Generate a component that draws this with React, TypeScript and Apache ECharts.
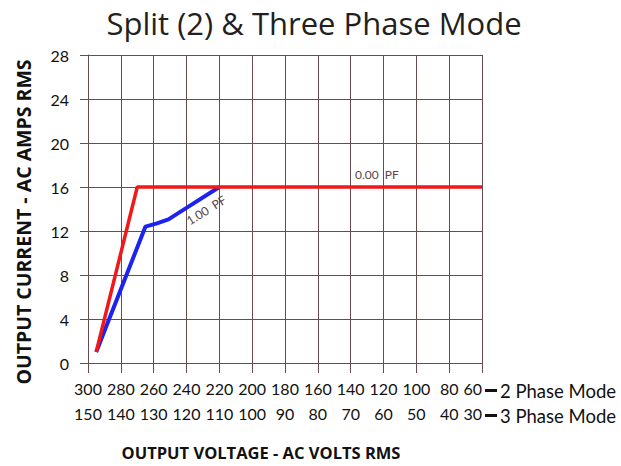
import React, { useEffect, useRef } from "react";
import * as echarts from "echarts";

const TITLE = "Split (2) & Three Phase Mode";
const Y_TITLE = "OUTPUT CURRENT - AC AMPS RMS";
const X_TITLE = "OUTPUT VOLTAGE - AC VOLTS RMS";
const ROW2_LABEL = "2 Phase Mode";
const ROW3_LABEL = "3 Phase Mode";

// Output current (A rms) vs 2-phase output voltage (V rms)
const pf100: [number, number][] = [
  [295, 1],
  [265, 12.4],
  [258, 12.7],
  [251, 13.06],
  [240, 14.1],
  [220, 16],
];
const pf000: [number, number][] = [
  [295, 1],
  [270, 16],
  [60, 16],
];
const PF100_TEXT = { text: "1.00  PF", at: [228, 13.9] };
const PF000_TEXT = { text: "0.00  PF", at: [124, 17.1] };

// axis ranges
const V2 = { min: 60, max: 300, step: 20 };
const V3 = { min: 30, max: 150, step: 10 };
const AMPS = { min: 0, max: 28, step: 4 };

const LABEL_FONT = 'Lato, "Open Sans", sans-serif';
const TITLE_FONT = '"Open Sans", sans-serif';
const GRID_COLOR = "#6a4c4c";

export default function App() {
  const ref = useRef<HTMLDivElement>(null);
  useEffect(() => {
    if (!ref.current) return;
    const chart = echarts.init(ref.current, undefined, { renderer: "svg" });
    const axisLabelX = {
      fontFamily: LABEL_FONT,
      fontSize: 16,
      color: "#111",
      margin: 17,
      alignMinLabel: "right",
      hideOverlap: false,
    };
    chart.setOption({
      animation: false,
      backgroundColor: "#fff",
      grid: { left: 88, top: 55, right: 139, bottom: 103 },
      xAxis: [
        {
          type: "value",
          min: V2.min,
          max: V2.max,
          interval: V2.step,
          inverse: true,
          position: "bottom",
          axisLine: { show: true, lineStyle: { color: GRID_COLOR, width: 1 } },
          axisTick: { show: true, length: 10, lineStyle: { color: GRID_COLOR } },
          splitLine: { show: true, lineStyle: { color: GRID_COLOR, width: 1 } },
          axisLabel: axisLabelX,
        },
        {
          type: "value",
          min: V3.min,
          max: V3.max,
          interval: V3.step,
          inverse: true,
          position: "bottom",
          offset: 25,
          axisLine: { show: false },
          axisTick: { show: false },
          splitLine: { show: false },
          axisLabel: axisLabelX,
        },
      ],
      yAxis: {
        type: "value",
        min: AMPS.min,
        max: AMPS.max,
        interval: AMPS.step,
        axisLine: { show: true, lineStyle: { color: GRID_COLOR, width: 1 } },
        axisTick: { show: true, length: 8, lineStyle: { color: GRID_COLOR } },
        splitLine: { show: true, lineStyle: { color: GRID_COLOR, width: 1 } },
        axisLabel: { fontFamily: LABEL_FONT, fontSize: 16, color: "#111", margin: 19 },
      },
      series: [
        {
          type: "line",
          name: "1.00 PF",
          data: pf100,
          symbol: "none",
          lineStyle: { color: "#1c22f0", width: 4 },
          z: 3,
        },
        {
          type: "line",
          name: "0.00 PF",
          data: pf000,
          symbol: "none",
          lineStyle: { color: "#f01818", width: 3.5 },
          z: 4,
        },
      ],
    });

    const p1 = chart.convertToPixel({ xAxisIndex: 0, yAxisIndex: 0 }, PF100_TEXT.at) as number[];
    const p0 = chart.convertToPixel({ xAxisIndex: 0, yAxisIndex: 0 }, PF000_TEXT.at) as number[];

    chart.setOption({
      graphic: [
        {
          type: "text",
          x: 314,
          y: 23,
          style: {
            text: TITLE,
            fontFamily: TITLE_FONT,
            fontSize: 31,
            fill: "#231f20",
            align: "center",
            verticalAlign: "middle",
          },
        },
        {
          type: "text",
          x: 23,
          y: 222,
          rotation: Math.PI / 2,
          style: {
            text: Y_TITLE,
            fontFamily: TITLE_FONT,
            fontWeight: "bold",
            fontSize: 19.5,
            fill: "#111",
            align: "center",
            verticalAlign: "middle",
          },
        },
        {
          type: "text",
          x: 261,
          y: 452,
          style: {
            text: X_TITLE,
            fontFamily: TITLE_FONT,
            fontWeight: "bold",
            fontSize: 16.5,
            fill: "#111",
            align: "center",
            verticalAlign: "middle",
          },
        },
        {
          type: "rect",
          shape: { x: 485, y: 389, width: 12, height: 3 },
          style: { fill: "#111" },
        },
        {
          type: "rect",
          shape: { x: 485, y: 414, width: 12, height: 3 },
          style: { fill: "#111" },
        },
        {
          type: "text",
          x: 500,
          y: 391,
          style: {
            text: ROW2_LABEL,
            fontFamily: LABEL_FONT,
            fontSize: 18.5,
            fill: "#111",
            align: "left",
            verticalAlign: "middle",
          },
        },
        {
          type: "text",
          x: 500,
          y: 416,
          style: {
            text: ROW3_LABEL,
            fontFamily: LABEL_FONT,
            fontSize: 18.5,
            fill: "#111",
            align: "left",
            verticalAlign: "middle",
          },
        },
        {
          type: "text",
          x: p0[0],
          y: p0[1],
          style: {
            text: PF000_TEXT.text,
            fontFamily: LABEL_FONT,
            fontSize: 12,
            fill: "#5a4444",
            align: "center",
            verticalAlign: "middle",
          },
        },
        {
          type: "text",
          x: p1[0],
          y: p1[1],
          rotation: 0.56,
          style: {
            text: PF100_TEXT.text,
            fontFamily: LABEL_FONT,
            fontSize: 12,
            fill: "#5a4444",
            align: "center",
            verticalAlign: "middle",
          },
        },
      ],
    });
    return () => chart.dispose();
  }, []);
  return (
    <div
      ref={ref}
      style={{ position: "fixed", left: 0, top: 0, width: 621, height: 466 }}
    />
  );
}
